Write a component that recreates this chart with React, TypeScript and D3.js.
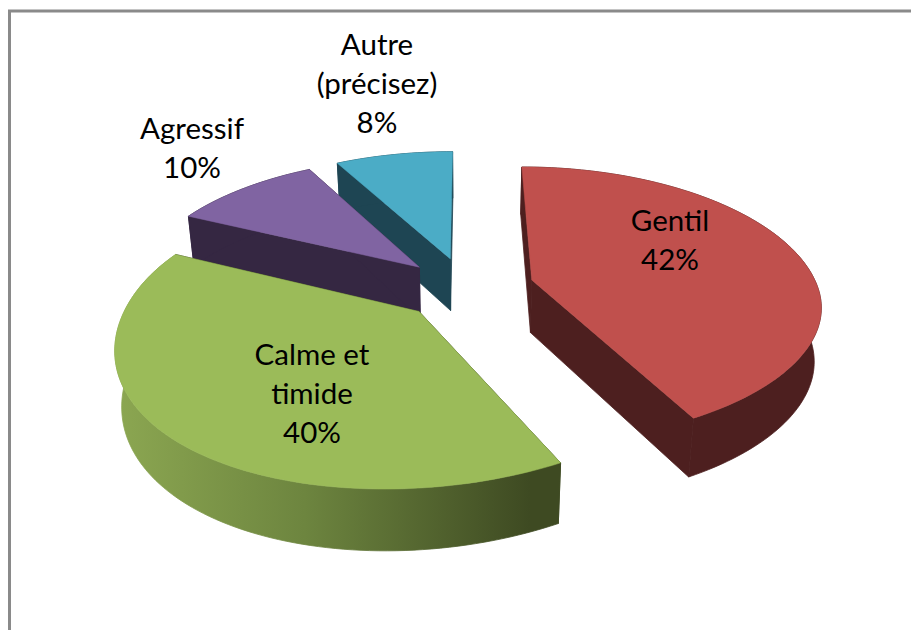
import React from "react";
import * as d3 from "d3";

const categories = ["Gentil", "Calme et timide", "Agressif", "Autre (précisez)"];
const values = [42, 40, 10, 8];
const pull = [0.24, 0.23, 0.23, 0.23];
const topColors = ["#c0504d", "#9bbb59", "#8064a2", "#4bacc6"];
const wallColors = ["#4d1f1f", "#3e4a22", "#352742", "#1e4553"];
const labelLines = [["Gentil", "42%"], ["Calme et", "timide", "40%"], ["Agressif", "10%"], ["Autre", "(précisez)", "8%"]];
const labelCentres = [[670, 222], [312, 356], [192, 130], [377, 46]];

const W = 911, H = 630;
const cx = 466, cy = 288, Rx = 286, Ry = 136, persp = 0.18, depth = 53, frontShear = 18;
const startAngle = 0;

type P = [number, number];
function project(u: number, v: number, z: number): P {
  const k = 1 / (1 - persp * v);
  const shear = v > 0 ? frontShear * v * v : 0;
  return [cx + Rx * u * k * (1 - 0.02 * z) - shear, cy + Ry * v * k + depth * z * Math.pow(k, 0.65)];
}

const line = d3.line<P>().x(d => d[0]).y(d => d[1]);
const pieLayout = d3.pie<number>().sort(null).startAngle(startAngle).endAngle(startAngle + 2 * Math.PI);
const arcs = pieLayout(values);

export default function App() {
  const slices = arcs.map((a, i) => {
    const mid = (a.startAngle + a.endAngle) / 2;
    const ox = Math.sin(mid) * pull[i], oy = -Math.cos(mid) * pull[i];
    const pt = (ang: number, z: number) => project(ox + Math.sin(ang), oy - Math.cos(ang), z);
    const apex = (z: number) => project(ox, oy, z);
    const n = Math.max(8, Math.round((a.endAngle - a.startAngle) * 40));
    const angles = d3.range(n + 1).map(j => a.startAngle + (a.endAngle - a.startAngle) * j / n);
    const top: P[] = [apex(0), ...angles.map(t => pt(t, 0))];
    const arcWall: P[] = [...angles.map(t => pt(t, 0)), ...angles.slice().reverse().map(t => pt(t, 1))];
    const wallA: P[] = [apex(0), pt(a.startAngle, 0), pt(a.startAngle, 1), apex(1)];
    const wallB: P[] = [apex(0), pt(a.endAngle, 0), pt(a.endAngle, 1), apex(1)];
    return { top, arcWall, wallA, wallB };
  });
  const order = [3, 2, 1, 0];
  return (
    <svg width={W} height={H} style={{ position: "absolute", left: 0, top: 0, display: "block" }}>
      <defs>
        <linearGradient id="greenWall" gradientUnits="userSpaceOnUse" x1={120} x2={530} y1={0} y2={0}>
          <stop offset="0" stopColor="#8ba651" />
          <stop offset="0.45" stopColor="#6d853f" />
          <stop offset="1" stopColor="#3e4a22" />
        </linearGradient>
      </defs>
      <rect width={W} height={H} fill="#ffffff" />
      <path d={`M9.5 ${H + 5}V11H${W + 5}`} fill="none" stroke="#8a8a8a" strokeWidth={3} />
      {order.map(i => {
        const s = slices[i];
        const wallFill = i === 1 ? "url(#greenWall)" : wallColors[i];
        return (
          <g key={categories[i]}>
            <path d={line(s.wallA)! + "Z"} fill={wallColors[i]} stroke={wallColors[i]} strokeWidth={0.8} />
            <path d={line(s.wallB)! + "Z"} fill={wallColors[i]} stroke={wallColors[i]} strokeWidth={0.8} />
            <path d={line(s.arcWall)! + "Z"} fill={wallFill} stroke={wallFill} strokeWidth={0.8} />
            <path d={line(s.top)! + "Z"} fill={topColors[i]} stroke={topColors[i]} strokeWidth={0.5} />
          </g>
        );
      })}
      {labelLines.map((ls, i) => (
        <text key={i} textAnchor="middle" fontFamily="Lato, 'Open Sans', sans-serif" fontSize={29.5} fill="#000">
          {ls.map((t, j) => (
            <tspan key={j} x={labelCentres[i][0]} y={labelCentres[i][1] + 9 + j * 39}>{t}</tspan>
          ))}
        </text>
      ))}
    </svg>
  );
}
